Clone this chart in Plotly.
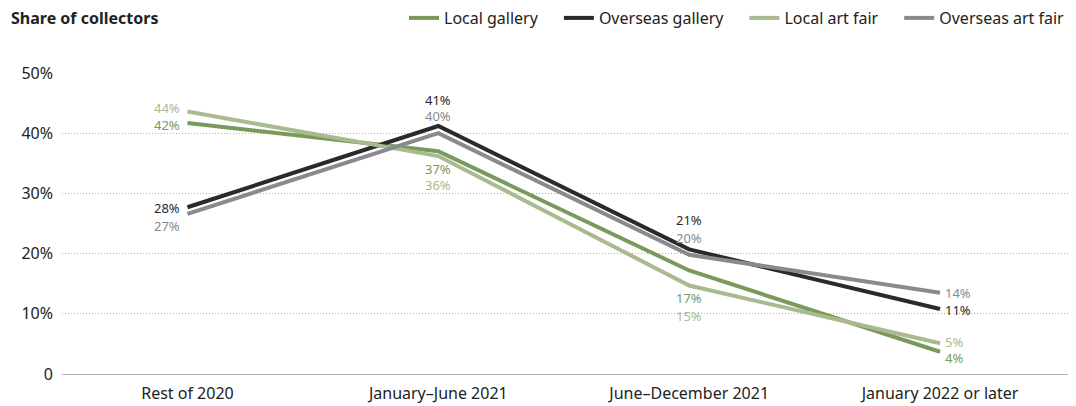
import plotly.graph_objects as go

# Periods in which collectors plan to buy again
periods = ["Rest of 2020", "January–June 2021", "June–December 2021", "January 2022 or later"]

# Share of collectors (%) by sales channel
local_gallery = [41.7, 37.0, 17.2, 3.7]
overseas_gallery = [27.7, 41.2, 20.7, 10.8]
local_art_fair = [43.6, 36.2, 14.7, 5.1]
overseas_art_fair = [26.6, 40.0, 19.8, 13.5]

series_names = ["Local gallery", "Overseas gallery", "Local art fair", "Overseas art fair"]
series_values = [local_gallery, overseas_gallery, local_art_fair, overseas_art_fair]
series_colors = ["#7a9a5c", "#2a2a2a", "#a9ba8f", "#8a8a8d"]

y_tick_vals = [0, 10, 20, 30, 40, 50]
y_tick_text = ["0", "10%", "20%", "30%", "40%", "50%"]

# Label placement per series and period: (xanchor, xshift, yshift)
label_offsets = {
    "Local gallery": [("right", -5, -2), ("center", 0, -18), ("center", 0, -28), ("left", 3, -6)],
    "Overseas gallery": [("right", -5, -1), ("center", 0, 26), ("center", 0, 29), ("left", 3, -1)],
    "Local art fair": [("right", -5, 4), ("center", 0, -29), ("center", 0, -30), ("left", 3, 1)],
    "Overseas art fair": [("right", -5, -12), ("center", 0, 17), ("center", 0, 17), ("left", 3, 0)],
}

FONT = "Noto Sans"
TEXT = "#222222"
TOP, BOTTOM = 73, 32
PLOT_W = 1076 - 62 - 8
PLOT_H = 406 - TOP - BOTTOM
HEADER_Y = 1 + (TOP - 18) / PLOT_H  # header row, in paper units
GAP = "\u2002\u2002"

fig = go.Figure()
annotations = []
for k, (name, vals, color) in enumerate(zip(series_names, series_values, series_colors)):
    legend_name = name if k == len(series_names) - 1 else name + GAP
    fig.add_trace(go.Scatter(
        x=periods, y=vals, name=legend_name, mode="lines",
        line=dict(color=color, width=4),
        hoverinfo="skip",
    ))
    for i, (p, v) in enumerate(zip(periods, vals)):
        xa, xs, ys = label_offsets[name][i]
        annotations.append(dict(
            x=p, y=v, xref="x", yref="y", text=f"{v:.0f}%",
            showarrow=False, xanchor=xa, yanchor="middle",
            xshift=xs, yshift=ys,
            font=dict(family=FONT, size=13, color=color),
        ))

annotations.append(dict(
    x=-53 / PLOT_W, y=HEADER_Y, xref="paper", yref="paper",
    text="<b>Share of collectors</b>",
    showarrow=False, xanchor="left", yanchor="middle",
    font=dict(family=FONT, size=16, color=TEXT),
))

fig.update_layout(
    width=1076, height=406,
    margin=dict(l=62, r=8, t=TOP, b=BOTTOM, autoexpand=False),
    paper_bgcolor="white", plot_bgcolor="white",
    font=dict(family=FONT, size=16, color=TEXT),
    showlegend=True,
    legend=dict(
        orientation="h", xanchor="right", x=1 + 2 / PLOT_W, yanchor="middle", y=HEADER_Y,
        font=dict(family=FONT, size=16, color=TEXT),
        itemwidth=30, tracegroupgap=0,
    ),
    annotations=annotations,
    xaxis=dict(
        type="category", range=[-0.5, 3.51], showgrid=False, showline=False,
        zeroline=False, ticks="", tickfont=dict(family=FONT, size=16, color=TEXT),
        ticklabelstandoff=8, fixedrange=True,
    ),
    yaxis=dict(
        range=[0, 50], tickvals=y_tick_vals, ticktext=y_tick_text,
        showgrid=True, gridcolor="#b0b0b0", gridwidth=1, griddash="1px,2px",
        zeroline=True, zerolinecolor="#b5b5b5", zerolinewidth=1,
        showline=False, ticks="", ticklabelstandoff=8,
        tickfont=dict(family=FONT, size=16, color=TEXT),
        fixedrange=True,
    ),
)

fig.write_html("out.html")
